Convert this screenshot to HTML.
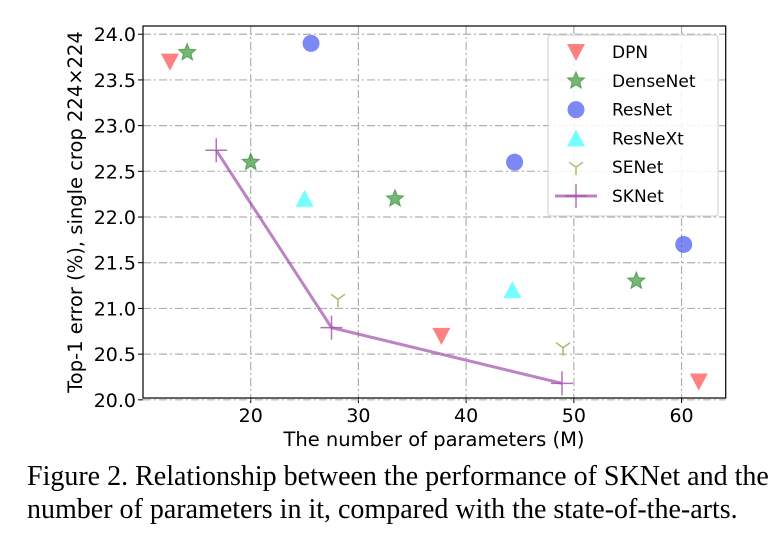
<!DOCTYPE html>
<html><head><meta charset="utf-8"><style>
body{margin:0;background:#fff;width:776px;height:542px;overflow:hidden}
svg text{font-family:"DejaVu Sans","Liberation Sans",sans-serif}
.cap{position:absolute;left:27px;top:460px;font-family:"Liberation Serif",serif;font-size:28px;line-height:33px;color:#000;width:770px;white-space:nowrap}
</style></head><body>
<svg id="chart" width="776" height="460" style="position:absolute;left:0;top:0"></svg>
<div class="cap">Figure 2. Relationship between the performance of SKNet and the<br>number of parameters in it, compared with the state-of-the-arts.</div>
<script>
const xTicks=[20,30,40,50,60];
const yTicks=[20.0,20.5,21.0,21.5,22.0,22.5,23.0,23.5,24.0];
const dpnX=[12.5,37.7,61.6], dpnY=[23.7,20.7,20.2];
const denseX=[14.1,20.0,33.4,55.8], denseY=[23.8,22.6,22.2,21.3];
const resX=[25.6,44.5,60.2], resY=[23.9,22.6,21.7];
const resnextX=[25.0,44.3], resnextY=[22.2,21.2];
const seX=[28.1,49.0], seY=[21.1,20.57];
const skX=[16.8,27.5,48.9], skY=[22.73,20.79,20.18];

const NS='http://www.w3.org/2000/svg', svg=document.getElementById('chart');
const L=143,R=725.7,T=26,B=398;
const X0=10,X1=64.1,Y0=20.02,Y1=24.09;
const sx=v=>L+(v-X0)/(X1-X0)*(R-L), sy=v=>B-(v-Y0)/(Y1-Y0)*(B-T);
function el(t,a,p){const e=document.createElementNS(NS,t);for(const k in a)e.setAttribute(k,a[k]);(p||svg).appendChild(e);return e;}
xTicks.forEach(v=>{
  const g=el('line',{x1:sx(v),x2:sx(v),y1:T,y2:B,stroke:'#b0b0b0','stroke-dasharray':'8,3,2,3','stroke-width':1.2});
  
  el('line',{x1:sx(v),x2:sx(v),y1:B,y2:B+5,stroke:'#000'});
  const tx=el('text',{x:sx(v),y:B+24,'text-anchor':'middle','font-size':19});tx.textContent=v;
  
});
yTicks.forEach(v=>{
  const g=el('line',{x1:L,x2:R,y1:sy(v),y2:sy(v),stroke:'#b0b0b0','stroke-dasharray':'8,3,2,3','stroke-width':1.2});
  
  el('line',{x1:L-5,x2:L,y1:sy(v),y2:sy(v),stroke:'#000'});
  const tx=el('text',{x:L-7,y:sy(v)+7,'text-anchor':'end','font-size':19});tx.textContent=v.toFixed(1);
  
});
const fr=el('rect',{x:L,y:T,width:R-L,height:B-T,fill:'none',stroke:'#000','stroke-width':1.2});

const xt=el('text',{x:434,y:446,'text-anchor':'middle','font-size':19.5});xt.textContent='The number of parameters (M)';

const yt=el('text',{x:0,y:0,'text-anchor':'middle','font-size':19.5,transform:`translate(82,${(T+B)/2}) rotate(-90)`});yt.textContent='Top-1 error (%), single crop 224×224';


function marker(kind,x,y,p){
  let e;
  if(kind==='dpn') e=el('polygon',{points:`${x-9},${y-8} ${x+9},${y-8} ${x},${y+9}`,fill:'#ff5555','fill-opacity':0.75},p);
  else if(kind==='dense'){let pts=[];for(let i=0;i<10;i++){const r=i%2?4:9,a=-Math.PI/2+i*Math.PI/5;pts.push((x+r*Math.cos(a)).toFixed(1)+','+(y+r*Math.sin(a)).toFixed(1));}
    e=el('polygon',{points:pts.join(' '),fill:'#3a9a3a','fill-opacity':0.7,stroke:'#3a8a3a','stroke-opacity':0.7},p);}
  else if(kind==='res') e=el('circle',{cx:x,cy:y,r:8.5,fill:'#4455ee','fill-opacity':0.7},p);
  else if(kind==='resnext') e=el('polygon',{points:`${x-9},${y+8} ${x+9},${y+8} ${x},${y-9}`,fill:'#44ffff','fill-opacity':0.75},p);
  else if(kind==='se') e=el('path',{d:`M${x},${y} L${x},${y+8} M${x},${y} L${x-7},${y-5} M${x},${y} L${x+7},${y-5}`,stroke:'#b5b56a','stroke-width':1.5,fill:'none'},p);
  else e=el('path',{d:`M${x-11},${y} L${x+11},${y} M${x},${y-12} L${x},${y+12}`,stroke:'#a050a8','stroke-opacity':0.8,'stroke-width':1.5},p);
  return e;
}
const series=[['dpn',dpnX,dpnY],['dense',denseX,denseY],['res',resX,resY],['resnext',resnextX,resnextY],['se',seX,seY]];
const skl=el('polyline',{points:skX.map((v,i)=>sx(v)+','+sy(skY[i])).join(' '),fill:'none',stroke:'#a050a8','stroke-opacity':0.7,'stroke-width':3});

series.forEach(([k,xs,ys])=>xs.forEach((v,i)=>{const m=marker(k,sx(v),sy(ys[i]));
  }));
skX.forEach((v,i)=>{const m=marker('sk',sx(v),sy(skY[i]));
  });

const lg=el('g',{});
el('rect',{x:548,y:35,width:170,height:181,rx:3,fill:'#fff','fill-opacity':0.85,stroke:'#ccc'},lg);
const names=['DPN','DenseNet','ResNet','ResNeXt','SENet','SKNet'],kinds=['dpn','dense','res','resnext','se','sk'];
names.forEach((n,i)=>{const y=52+i*28.8;
  const g=el('g',{},lg);
  if(kinds[i]==='sk') el('line',{x1:555,x2:597,y1:y,y2:y,stroke:'#a050a8','stroke-opacity':0.7,'stroke-width':3},g);
  marker(kinds[i],576,y,g);
  const t=el('text',{x:612,y:y+6,'font-size':17},g);t.textContent=n;});
</script>
</body></html>
